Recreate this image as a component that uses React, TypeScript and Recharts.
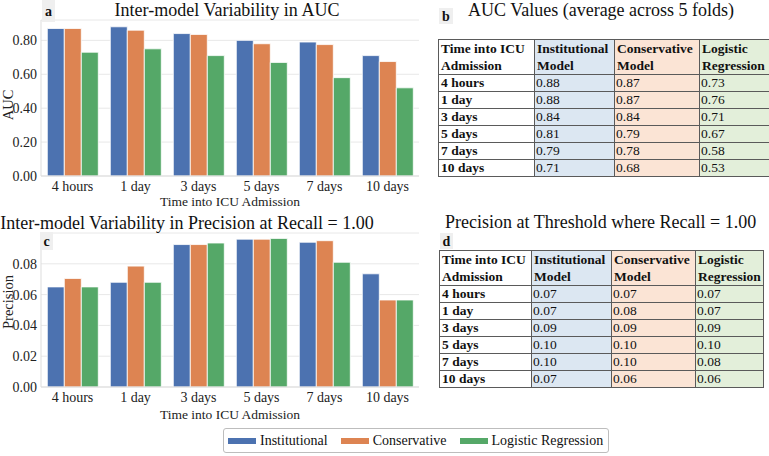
import React from 'react';
import { BarChart, Bar, XAxis, YAxis, CartesianGrid, Label } from 'recharts';

const categories = ['4 hours', '1 day', '3 days', '5 days', '7 days', '10 days'];
const seriesNames = ['Institutional', 'Conservative', 'Logistic Regression'];
const COLORS = ['#4C72B0', '#DD8452', '#55A868'];

// panel a: AUC per model
const aucInstitutional = [0.87, 0.88, 0.84, 0.8, 0.79, 0.71];
const aucConservative = [0.87, 0.86, 0.835, 0.78, 0.775, 0.675];
const aucLogistic = [0.73, 0.75, 0.71, 0.67, 0.58, 0.52];
const aucTicks = [0, 0.2, 0.4, 0.6, 0.8];

// panel c: precision at recall = 1.00
const precInstitutional = [0.065, 0.068, 0.0925, 0.096, 0.094, 0.0735];
const precConservative = [0.0705, 0.0785, 0.0925, 0.096, 0.095, 0.0565];
const precLogistic = [0.065, 0.068, 0.0935, 0.0965, 0.081, 0.0565];
const precTicks = [0, 0.02, 0.04, 0.06, 0.08];

// tables b and d
const tableHeaders = [
  ['Time into ICU', 'Admission'],
  ['Institutional', 'Model'],
  ['Conservative', 'Model'],
  ['Logistic', 'Regression'],
];
const aucTableInst = ['0.88', '0.88', '0.84', '0.81', '0.79', '0.71'];
const aucTableCons = ['0.87', '0.87', '0.84', '0.79', '0.78', '0.68'];
const aucTableLog = ['0.73', '0.76', '0.71', '0.67', '0.58', '0.53'];
const precTableInst = ['0.07', '0.07', '0.09', '0.10', '0.10', '0.07'];
const precTableCons = ['0.07', '0.08', '0.09', '0.10', '0.10', '0.06'];
const precTableLog = ['0.07', '0.07', '0.09', '0.10', '0.08', '0.06'];

const SERIF = '"Liberation Serif", "DejaVu Serif", serif';
const CELL_BG = ['#ffffff', '#dce7f2', '#fbe4d5', '#e3efda'];

const toRows = (a: number[], b: number[], c: number[]) =>
  categories.map((name, i) => ({ name, s0: a[i], s1: b[i], s2: c[i] }));

function Txt({ x, y, size = 18, children, center = false, bold = false }: any) {
  return (
    <div
      style={{
        position: 'absolute',
        left: center ? x - 300 : x,
        width: center ? 600 : undefined,
        textAlign: center ? 'center' : 'left',
        top: y - size * 0.84,
        fontSize: size,
        lineHeight: `${size}px`,
        fontWeight: bold ? 'bold' : 'normal',
        whiteSpace: 'nowrap',
        color: '#111',
      }}
    >
      {children}
    </div>
  );
}

function PanelTag({ x, y, w, h, letter }: any) {
  return (
    <div
      style={{
        position: 'absolute',
        left: x,
        top: y,
        width: w,
        height: h,
        background: '#efefef',
        fontSize: 14,
        fontWeight: 'bold',
        textAlign: 'center',
        lineHeight: `${h + 2}px`,
        color: '#111',
      }}
    >
      {letter}
    </div>
  );
}

function BarPanel({ data, top, marginTop, axisHeight, domain, ticks, yLabel, yLabelY, titleOffset }: any) {
  const tick = { fontFamily: SERIF, fill: '#222' };
  return (
    <div style={{ position: 'absolute', left: 0, top }}>
      <BarChart
        width={420}
        height={215}
        data={data}
        margin={{ top: marginTop, right: 1, bottom: 0, left: 0 }}
        barCategoryGap="10%"
        barGap={0}
      >
        <CartesianGrid vertical={false} stroke="#e8e8e8" />
        <XAxis
          dataKey="name"
          height={axisHeight}
          tick={{ ...tick, fontSize: 14 }}
          tickLine={false}
          tickSize={4}
          tickMargin={1}
          axisLine={{ stroke: '#dddddd' }}
        >
          <Label
            value="Time into ICU Admission"
            position="insideBottom"
            offset={titleOffset}
            style={{ fontFamily: SERIF, fontSize: 13.5, fill: '#222' }}
          />
        </XAxis>
        <YAxis
          width={41}
          domain={domain}
          ticks={ticks}
          tickFormatter={(v: number) => v.toFixed(2)}
          tick={{ ...tick, fontSize: 14 }}
          tickLine={false}
          tickSize={2}
          tickMargin={2}
          axisLine={{ stroke: '#dddddd' }}
          interval={0}
          allowDataOverflow
        >
          <Label
            content={() => (
              <text
                x={8}
                y={yLabelY}
                transform={`rotate(-90 8 ${yLabelY})`}
                textAnchor="middle"
                dominantBaseline="central"
                style={{ fontFamily: SERIF, fontSize: 14.5, fill: '#222' }}
              >
                {yLabel}
              </text>
            )}
          />
        </YAxis>
        {seriesNames.map((s, i) => (
          <Bar
            key={s}
            dataKey={`s${i}`}
            name={s}
            fill={COLORS[i]}
            stroke="#ffffff"
            strokeWidth={0.8}
            isAnimationActive={false}
          />
        ))}
      </BarChart>
    </div>
  );
}

function ValueTable({ left, top, widths, cols }: any) {
  const cell = (i: number, extra: any = {}) => ({
    border: '1px solid #5a5a5a',
    background: CELL_BG[i],
    padding: '0 0 0 2px',
    height: 16,
    lineHeight: '16px',
    fontSize: 13.5,
    color: '#111',
    whiteSpace: 'nowrap' as const,
    overflow: 'hidden',
    ...extra,
  });
  return (
    <table
      style={{
        position: 'absolute',
        left,
        top,
        borderCollapse: 'collapse',
        tableLayout: 'fixed',
        width: widths.reduce((a: number, b: number) => a + b, 0),
        fontFamily: SERIF,
      }}
    >
      <colgroup>
        {widths.map((w: number, i: number) => (
          <col key={i} style={{ width: w }} />
        ))}
      </colgroup>
      <tbody>
        <tr>
          {tableHeaders.map((h, i) => (
            <td key={i} style={cell(i, { fontWeight: 'bold', height: 33, lineHeight: '17px' })}>
              {h[0]}
              <br />
              {h[1]}
            </td>
          ))}
        </tr>
        {categories.map((c, r) => (
          <tr key={c}>
            <td style={cell(0, { fontWeight: 'bold' })}>{c}</td>
            {cols.map((col: string[], i: number) => (
              <td key={i} style={cell(i + 1, { paddingLeft: 1 })}>
                {col[r]}
              </td>
            ))}
          </tr>
        ))}
      </tbody>
    </table>
  );
}

export default function App() {
  const aucData = toRows(aucInstitutional, aucConservative, aucLogistic);
  const precData = toRows(precInstitutional, precConservative, precLogistic);
  return (
    <div
      style={{
        position: 'absolute',
        left: 0,
        top: 0,
        width: 769,
        height: 456,
        background: '#ffffff',
        fontFamily: SERIF,
        overflow: 'hidden',
      }}
    >
      <BarPanel
        data={aucData}
        top={0}
        marginTop={20}
        axisHeight={39}
        domain={[0, 0.92]}
        ticks={aucTicks}
        yLabel="AUC"
        yLabelY={105}
        titleOffset={9}
      />
      <BarPanel
        data={precData}
        top={215}
        marginTop={18}
        axisHeight={43}
        domain={[0, 0.1]}
        ticks={precTicks}
        yLabel="Precision"
        yLabelY={87}
        titleOffset={11}
      />

      <PanelTag x={42} y={0} w={13} h={22} letter="a" />
      <Txt x={227} y={16} center>
        Inter-model Variability in AUC
      </Txt>
      <PanelTag x={40} y={232} w={13} h={18} letter="c" />
      <Txt x={187} y={229} center>
        Inter-model Variability in Precision at Recall = 1.00
      </Txt>

      <PanelTag x={439} y={8} w={14} h={16} letter="b" />
      <Txt x={468} y={16}>
        AUC Values (average across 5 folds)
      </Txt>
      <ValueTable left={438} top={39} widths={[96, 80, 85, 70]} cols={[aucTableInst, aucTableCons, aucTableLog]} />

      <Txt x={445} y={228}>
        Precision at Threshold where Recall = 1.00
      </Txt>
      <PanelTag x={440} y={233} w={13} h={16} letter="d" />
      <ValueTable left={439} top={250} widths={[92, 80, 84, 68]} cols={[precTableInst, precTableCons, precTableLog]} />

      <div
        style={{
          position: 'absolute',
          left: 223,
          top: 428,
          width: 380,
          height: 23,
          border: '1px solid #bdbdbd',
          borderRadius: 3,
          display: 'flex',
          alignItems: 'center',
          gap: 13,
          paddingLeft: 4,
          boxSizing: 'content-box',
        }}
      >
        {seriesNames.map((s, i) => (
          <div key={s} style={{ display: 'flex', alignItems: 'center', gap: 4 }}>
            <span style={{ display: 'inline-block', width: 28, height: 6, background: COLORS[i] }} />
            <span style={{ fontSize: 14, color: '#111' }}>{s}</span>
          </div>
        ))}
      </div>
    </div>
  );
}
